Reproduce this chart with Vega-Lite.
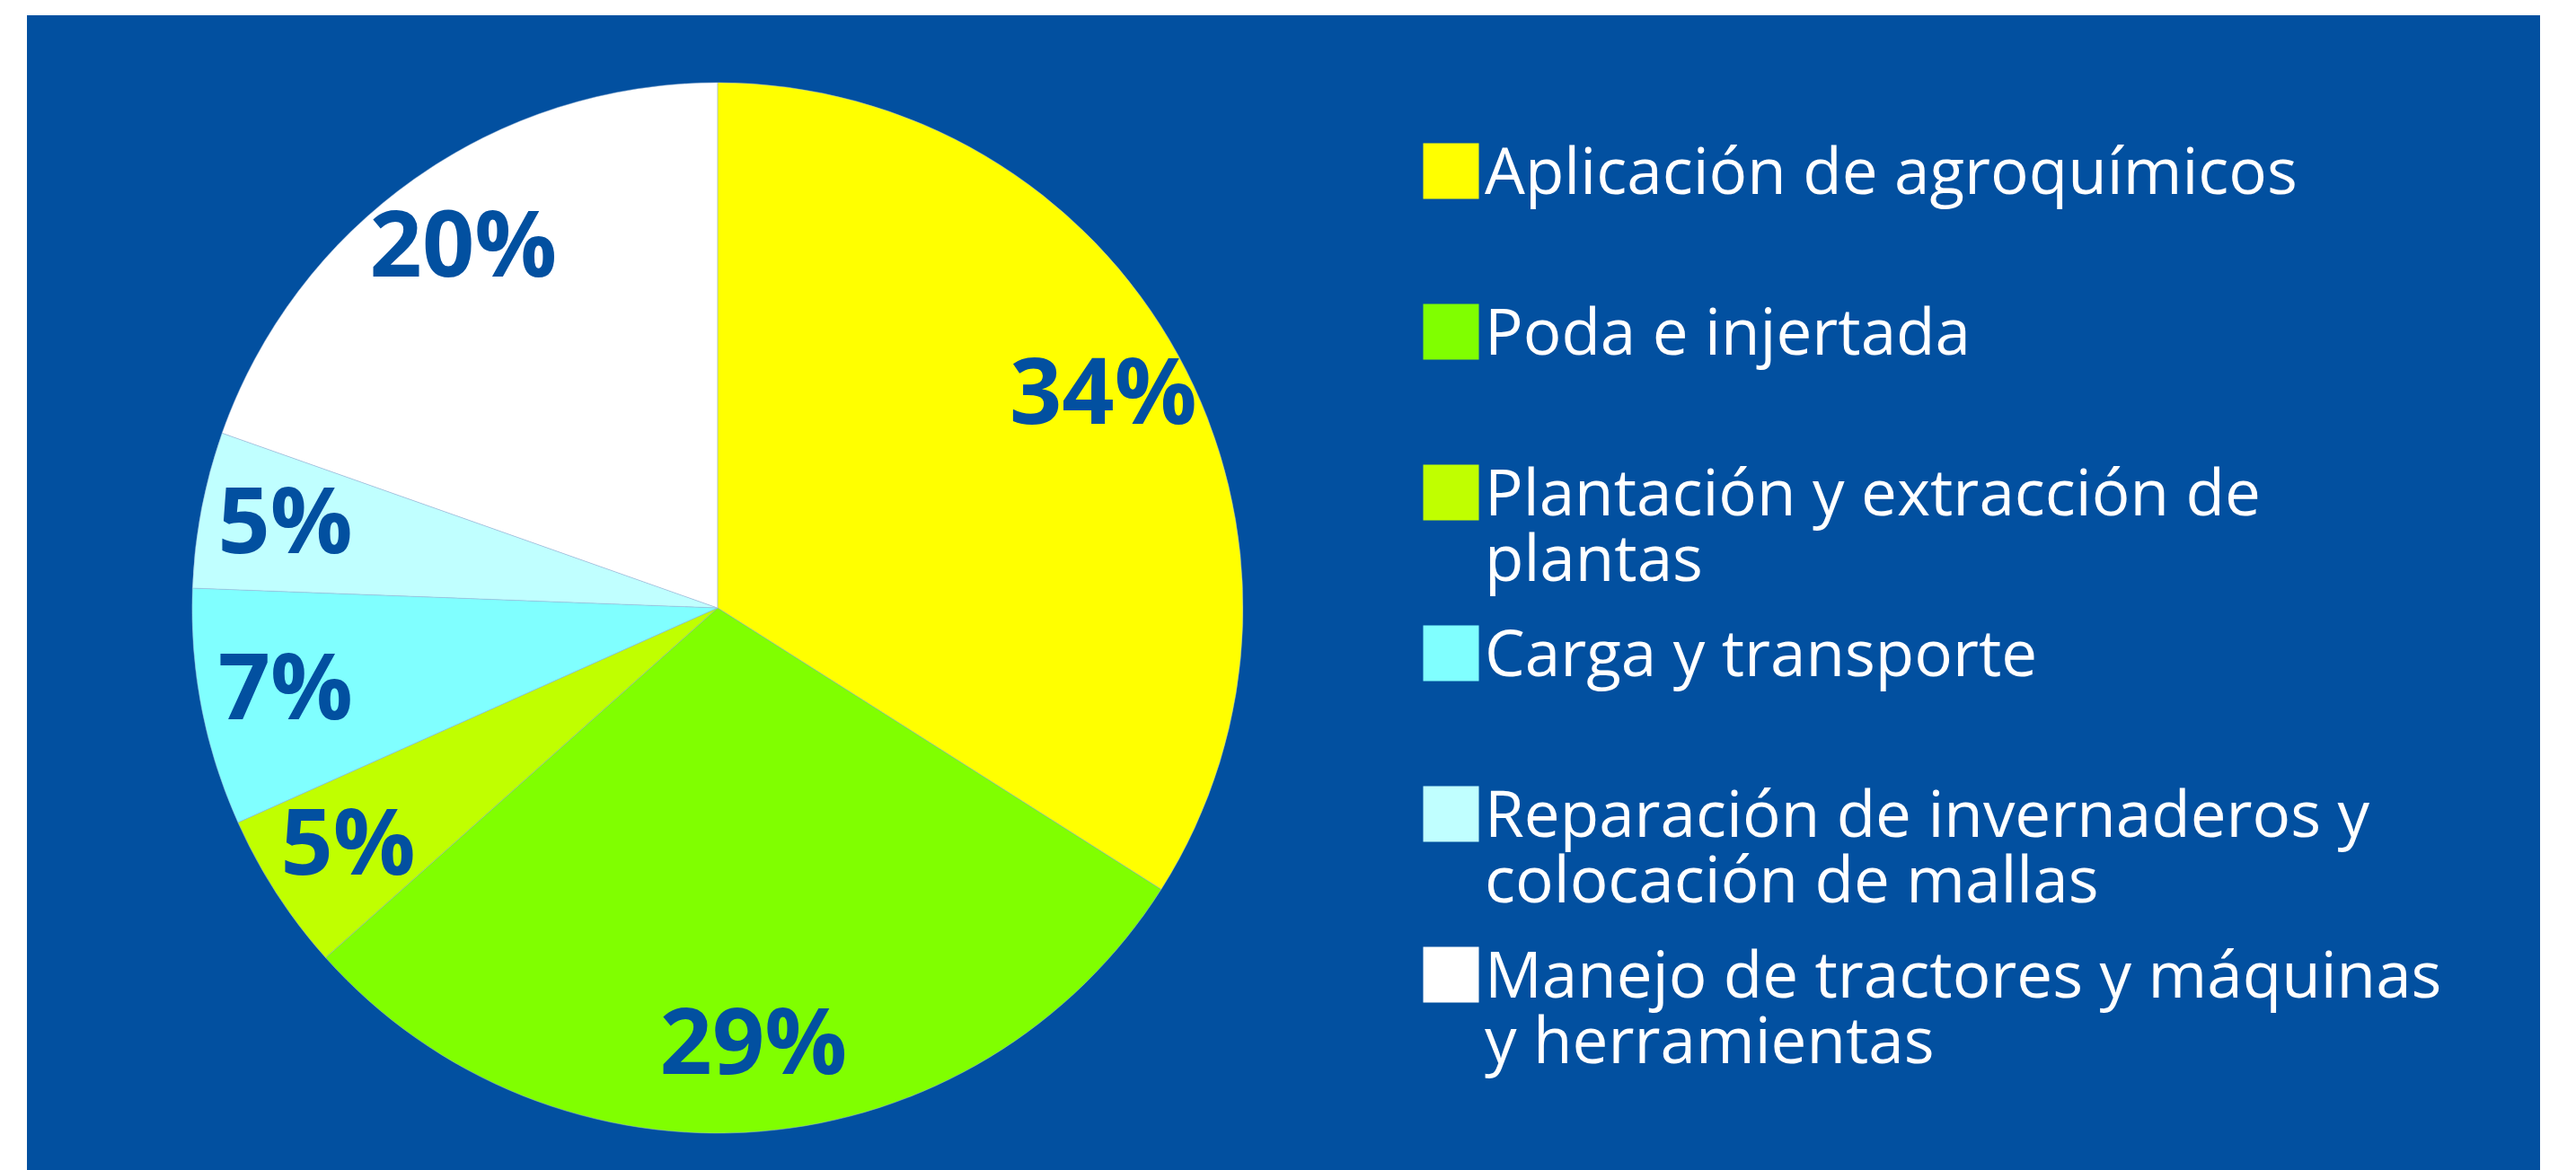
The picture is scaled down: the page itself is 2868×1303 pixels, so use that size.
{
  "$schema": "https://vega.github.io/schema/vega-lite/v6.json",
  "width": 2798,
  "height": 1286,
  "padding": {"left": 30, "top": 17, "right": 40, "bottom": 0},
  "autosize": {"type": "none"},
  "background": "white",
  "view": {"fill": "#0250A0", "stroke": null},
  "config": {"view": {"fill": "#0250A0", "stroke": null}},
  "data": {
    "values": [
      {"categoria": "Aplicación de agroquímicos", "valor": 34.0, "etiqueta": "34%", "orden": 1},
      {"categoria": "Poda e injertada", "valor": 29.4, "etiqueta": "29%", "orden": 2},
      {"categoria": "Plantación y extracción de plantas", "valor": 4.9, "etiqueta": "5%", "orden": 3},
      {"categoria": "Carga y transporte", "valor": 7.3, "etiqueta": "7%", "orden": 4},
      {"categoria": "Reparación de invernaderos y colocación de mallas", "valor": 4.8, "etiqueta": "5%", "orden": 5},
      {"categoria": "Manejo de tractores y máquinas y herramientas", "valor": 19.6, "etiqueta": "20%", "orden": 6}
    ]
  },
  "layer": [
    {
      "mark": {"type": "arc", "x": {"expr": "width*0.2748"}, "y": {"expr": "height*0.5132"}, "outerRadius": 585, "stroke": "#9fb8d8", "strokeWidth": 0.5},
      "encoding": {
        "theta": {"field": "valor", "type": "quantitative", "stack": true},
        "order": {"field": "orden", "type": "quantitative"},
        "color": {
          "field": "categoria",
          "type": "nominal",
          "scale": {
            "domain": ["Aplicación de agroquímicos", "Poda e injertada", "Plantación y extracción de plantas", "Carga y transporte", "Reparación de invernaderos y colocación de mallas", "Manejo de tractores y máquinas y herramientas"],
            "range": ["#FFFF00", "#80FF00", "#C0FF00", "#80FFFF", "#C0FFFF", "#FFFFFF"]
          },
          "legend": {
            "orient": "none",
            "legendX": 1550,
            "legendY": 107,
            "title": null,
            "padding": 0,
            "symbolType": "M-1,0H1V2H-1Z",
            "symbolSize": 3844,
            "symbolStrokeWidth": 0,
            "symbolOpacity": 1,
            "labelFont": "Open Sans",
            "labelFontSize": 71,
            "labelColor": "white",
            "labelLimit": 3000,
            "labelOffset": 2,
            "labelBaseline": "top",
            "gridAlign": "all",
            "rowPadding": 0,
            "labelExpr": "datum.label == 'Plantación y extracción de plantas' ? ['Plantación y extracción de', 'plantas'] : datum.label == 'Reparación de invernaderos y colocación de mallas' ? ['Reparación de invernaderos y', 'colocación de mallas'] : datum.label == 'Manejo de tractores y máquinas y herramientas' ? ['Manejo de tractores y máquinas', 'y herramientas'] : datum.label"
          }
        }
      }
    },
    {
      "mark": {"type": "text", "x": {"expr": "width*0.2748"}, "y": {"expr": "height*0.5132"}, "radius": 490, "font": "Open Sans", "fontWeight": "bold", "fontSize": 102, "color": "#0250A0", "align": "center", "baseline": "middle"},
      "encoding": {
        "theta": {"field": "valor", "type": "quantitative", "stack": true},
        "order": {"field": "orden", "type": "quantitative"},
        "text": {"field": "etiqueta", "type": "nominal"}
      }
    }
  ]
}
